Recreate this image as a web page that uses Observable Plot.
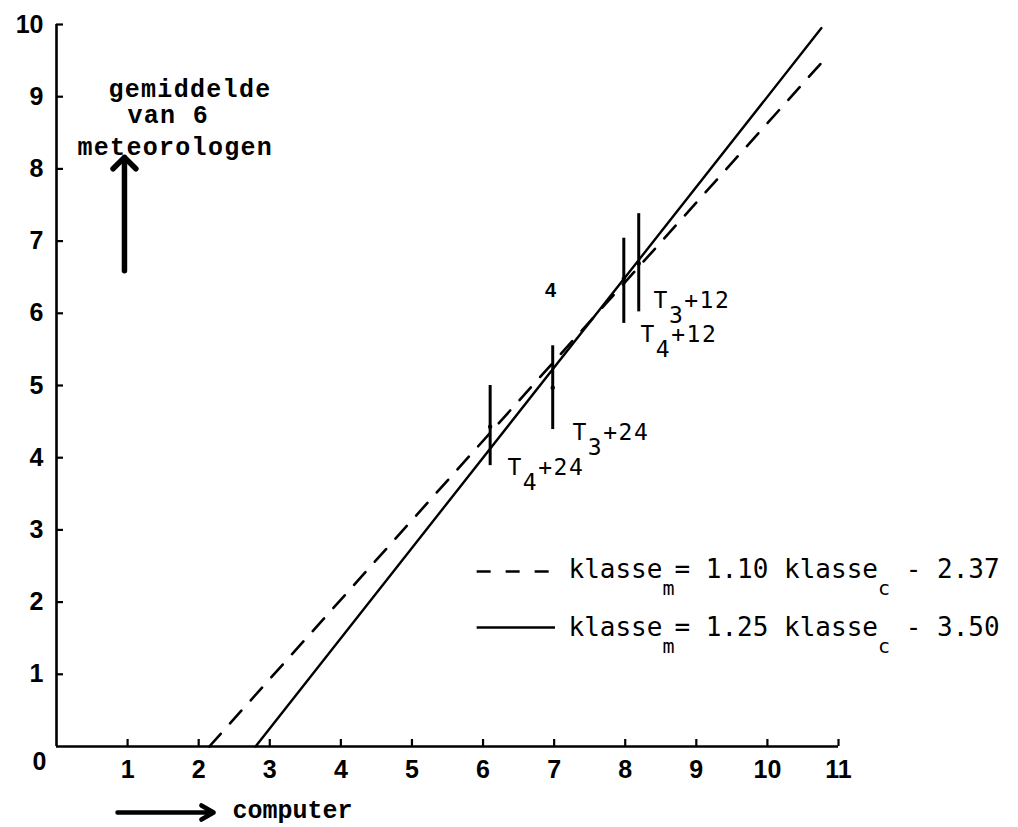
<!DOCTYPE html>
<html><head><meta charset="utf-8">
<script src="https://cdn.jsdelivr.net/npm/d3@7"></script>
<script src="https://cdn.jsdelivr.net/npm/@observablehq/plot@0.6"></script>
<style>
html,body{margin:0;padding:0;background:#fff;}
svg text{white-space:pre;}
</style></head><body><div id="chart"></div>
<script>
// ---- data ----
const xTicks = [1,2,3,4,5,6,7,8,9,10,11];
const yTicks = [1,2,3,4,5,6,7,8,9,10];
// regression lines (end points)
const dashedLine = [{x:2.15, y:0}, {x:10.77, y:9.48}];
const solidLine  = [{x:2.80, y:0}, {x:10.76, y:9.95}];
// vertical spread bars
const barX    = [6.10, 6.98, 7.98, 8.19];
const barLow  = [3.89, 4.39, 5.86, 6.02];
const barHigh = [5.00, 5.55, 7.04, 7.38];
const barMean = [4.43, 4.97, 6.48, 6.69];
// point labels
const pointLabels = ["T_4+24", "T_3+24", "T_4+12", "T_3+12"];
const labelX = [6.344, 7.258, 8.215, 8.398];
const labelY = [3.767, 4.252, 5.596, 6.080];
// legend
const legendText = ["klasse_m= 1.10 klasse_c - 2.37", "klasse_m= 1.25 klasse_c - 3.50"];
const legendRowY = [2.424, 1.648];
const legendTextY = [2.327, 1.537];
// y-axis caption
const yCaption = ["gemiddelde", "van 6", "meteorologen"];
const yCaptionX = [0.731, 0.999, 0.295];
const yCaptionY = [8.989, 8.629, 8.186];

const bars = barX.map((x, i) => ({x, lo: barLow[i], hi: barHigh[i], m: barMean[i]}));
const tlabels = pointLabels.map((t, i) => ({t, x: labelX[i], y: labelY[i]}));
const legend = legendText.map((t, i) => ({t, y: legendRowY[i], ty: legendTextY[i]}));
const ycap = yCaption.map((t, i) => ({t, x: yCaptionX[i], y: yCaptionY[i]}));

const SANS = "'Liberation Sans', Arial, sans-serif";
const MONO = "'DejaVu Sans Mono', monospace";
const SERIFMONO = "'Liberation Mono', 'Courier New', monospace";

const chart = Plot.plot({
  width: 1018, height: 827,
  marginLeft: 56, marginRight: 180, marginTop: 24, marginBottom: 81,
  x: {domain: [0, 11]},
  y: {domain: [0, 10]},
  style: {background: "#fff", color: "#000"},
  marks: [
    Plot.ruleX([0], {y1: 0, y2: 10, stroke: "#000", strokeWidth: 2.6}),
    Plot.ruleY([0], {x1: 0, x2: 11, stroke: "#000", strokeWidth: 2.6}),
    Plot.axisX(xTicks, {tickSize: -7, tickPadding: 21, tickFormat: d => String(d), strokeWidth: 2.2, fontSize: 25, fontWeight: "bold", fontFamily: SANS, fill: "#000"}),
    Plot.axisY(yTicks, {tickSize: -7, tickPadding: 20, tickFormat: d => String(d), strokeWidth: 2.2, fontSize: 25, fontWeight: "bold", fontFamily: SANS, fill: "#000"}),
    Plot.text([{x: 0, y: 0}], {x: "x", y: "y", text: () => "0", dx: -17, dy: 23, lineAnchor: "bottom", fontSize: 25, fontWeight: "bold", fontFamily: SANS}),
    // regression lines
    Plot.line(dashedLine, {x: "x", y: "y", stroke: "#000", strokeWidth: 2.6, strokeDasharray: "17,14"}),
    Plot.line(solidLine, {x: "x", y: "y", stroke: "#000", strokeWidth: 2.4}),
    // bars
    Plot.ruleX(bars, {x: "x", y1: "lo", y2: "hi", stroke: "#000", strokeWidth: 3}),
    Plot.dot(bars, {x: "x", y: "m", r: 2.2, fill: "#000", stroke: null}),
    // labels
    Plot.text(tlabels, {x: "x", y: "y", text: "t", textAnchor: "start", lineAnchor: "bottom", fontSize: 23, fontFamily: MONO, fill: "#000"}),
    Plot.text([{x: 6.949, y: 6.219}], {x: "x", y: "y", text: () => "4", lineAnchor: "bottom", fontSize: 20, fontWeight: "bold", fontFamily: SANS, fill: "#000"}),
    // legend
    Plot.ruleY([legend[0]], {y: "y", x1: 5.917, x2: 7.019, stroke: "#000", strokeWidth: 2.4, strokeDasharray: "14,15"}),
    Plot.ruleY([legend[1]], {y: "y", x1: 5.917, x2: 7.019, stroke: "#000", strokeWidth: 2.4}),
    Plot.text(legend, {x: 7.202, y: "ty", text: "t", textAnchor: "start", lineAnchor: "bottom", fontSize: 26, fontFamily: MONO, fill: "#000"}),
    // y caption + arrow
    Plot.text(ycap, {x: "x", y: "y", text: "t", textAnchor: "start", lineAnchor: "bottom", fontSize: 25, fontWeight: "bold", fontFamily: SERIFMONO, fill: "#000"}),
    Plot.arrow([{x: 0.956, y1: 6.59, y2: 8.16}], {x: "x", y1: "y1", y2: "y2", stroke: "#000", strokeWidth: 5.5, headLength: 4.4, headAngle: 90}),
    // x caption + arrow
    Plot.arrow([{x1: 0.858, x2: 2.21, y: -0.914}], {x1: "x1", x2: "x2", y: "y", stroke: "#000", strokeWidth: 4.5, headLength: 4.7, headAngle: 60}),
    Plot.text([{x: 2.476, y: -0.99}], {x: "x", y: "y", text: () => "computer", textAnchor: "start", lineAnchor: "bottom", fontSize: 25, fontWeight: "bold", fontFamily: SERIFMONO, fill: "#000"})
  ]
});

// subscripts: "_c" => subscript character
d3.select(chart).selectAll("text").each(function () {
  const s = this.textContent;
  if (!s.includes("_")) return;
  const legendLike = s.startsWith("klasse");
  const shift = legendLike ? 17 : 15;
  const subSize = legendLike ? 20 : 23;
  this.setAttribute("letter-spacing", legendLike ? "0" : "1.5");
  const parts = s.split(/_(.)/);
  const t = d3.select(this);
  t.text(null);
  let down = false;
  parts.forEach((p, i) => {
    if (i % 2 === 0) {
      if (p === "") return;
      const ts = t.append("tspan").text(p);
      if (down) { ts.attr("dy", -shift); down = false; }
    } else {
      const ts = t.append("tspan").text(p).attr("font-size", subSize);
      ts.attr("dy", down ? 0 : shift);
      down = true;
    }
  });
});
d3.select(chart).selectAll("text").filter(function(){ return /gemiddelde|meteorologen|van 6/.test(this.textContent); }).attr("letter-spacing", "1.3");

document.getElementById("chart").appendChild(chart);
</script></body></html>
